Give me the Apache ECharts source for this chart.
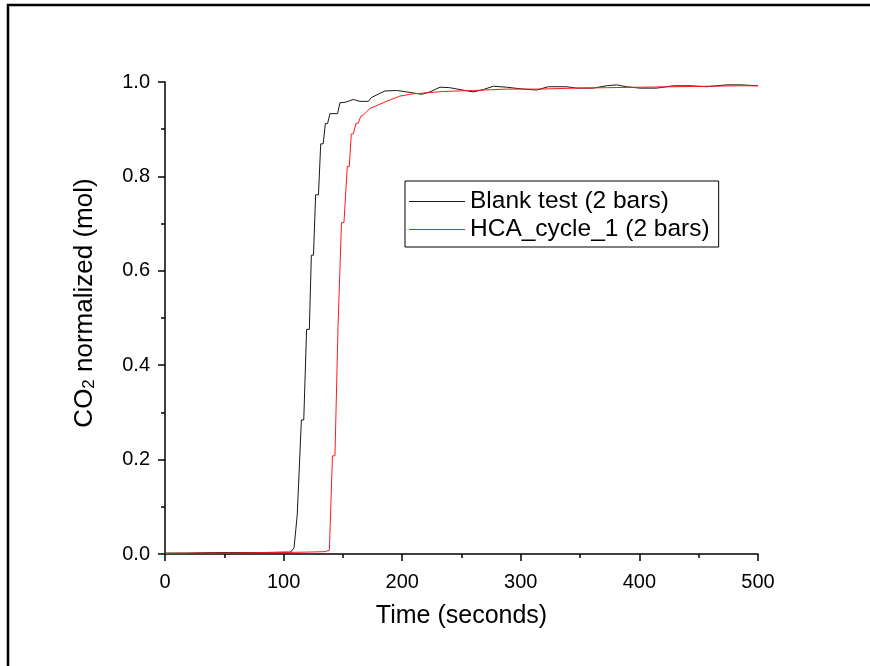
<!DOCTYPE html>
<html>
<head>
<meta charset="utf-8">
<script src="https://cdn.jsdelivr.net/npm/echarts@6/dist/echarts.min.js"></script>
<style>
html,body{margin:0;padding:0;background:#fff;}
#c{width:870px;height:666px;}
</style>
</head>
<body>
<div id="c"></div>
<script>
// Time (s) and normalized CO2 for the blank test
const blankT = [0, 20, 40, 60, 80, 100, 106, 108.8, 111.5, 113, 115, 117, 119.4, 121.7, 123.4, 125.2, 127, 129.4, 131.3, 133.4, 135.2, 137.1, 139.1, 145.5, 147.5, 152, 158.8, 164.4, 171.5, 174, 181.3, 185.5, 195.4, 203.7, 216.4, 223.4, 231.9, 240, 248.7, 260, 268.4, 276.8, 288, 302, 313.3, 323.2, 338.6, 347, 361, 372.3, 380.8, 389, 400.5, 414.6, 428.6, 442.7, 456.7, 473.7, 484.8, 500];
const blankV = [0.002, 0.002, 0.003, 0.003, 0.003, 0.004, 0.004, 0.013, 0.083, 0.083, 0.284, 0.284, 0.476, 0.476, 0.633, 0.633, 0.761, 0.761, 0.869, 0.869, 0.912, 0.912, 0.933, 0.933, 0.956, 0.957, 0.963, 0.959, 0.959, 0.967, 0.976, 0.981, 0.982, 0.979, 0.974, 0.979, 0.989, 0.988, 0.984, 0.979, 0.984, 0.991, 0.989, 0.985, 0.983, 0.990, 0.990, 0.987, 0.987, 0.992, 0.994, 0.990, 0.987, 0.987, 0.992, 0.992, 0.990, 0.994, 0.994, 0.992];

// Time (s) and normalized CO2 for HCA cycle 1
const hcaT = [0, 30, 60, 90, 120, 135, 138.6, 141.2, 143.3, 145.9, 147.1, 148.8, 150.9, 153.7, 155.4, 157.1, 158.8, 161, 163, 165, 167.2, 170, 172.9, 181.3, 189.7, 198, 209.4, 220.6, 234.6, 260, 288, 316, 345, 373, 401, 430, 458, 486, 500];
const hcaV = [0.001, 0.002, 0.002, 0.003, 0.004, 0.005, 0.008, 0.208, 0.208, 0.483, 0.483, 0.702, 0.702, 0.821, 0.821, 0.890, 0.890, 0.912, 0.913, 0.927, 0.930, 0.937, 0.944, 0.953, 0.962, 0.970, 0.975, 0.977, 0.980, 0.982, 0.985, 0.985, 0.987, 0.988, 0.989, 0.990, 0.991, 0.992, 0.992];

const seriesNames = ['Blank test (2 bars)', 'HCA_cycle_1 (2 bars)'];
const xTicks = [0, 100, 200, 300, 400, 500];
const yTicks = [0.0, 0.2, 0.4, 0.6, 0.8, 1.0];

const zip = (a, b) => a.map((t, i) => [t, b[i]]);
const FONT = '"Liberation Sans", Arial, sans-serif';
const BLACK = '#1a1a1a', RED = '#ff1a1a';

const chart = echarts.init(document.getElementById('c'), null, {renderer: 'canvas'});
chart.setOption({
  animation: false,
  backgroundColor: '#fff',
  grid: {left: 165, right: 112, top: 82, bottom: 112, containLabel: false},
  graphic: [{
    type: 'polyline',
    shape: {points: [[8, 670], [8, 5], [874, 5]]},
    style: {stroke: '#000', lineWidth: 2.5, fill: null}
  }],
  legend: {
    orient: 'vertical',
    left: 405, top: 181,
    padding: [8, 9, 5, 4],
    itemGap: 3,
    itemWidth: 56, itemHeight: 1,
    icon: 'rect',
    borderColor: '#000', borderWidth: 1,
    textStyle: {fontFamily: FONT, fontSize: 24.5, color: '#000'},
    data: [
      {name: seriesNames[0], itemStyle: {color: BLACK}},
      {name: seriesNames[1], itemStyle: {color: RED}}
    ]
  },
  xAxis: {
    type: 'value',
    min: xTicks[0], max: xTicks[xTicks.length - 1], interval: 100,
    name: 'Time (seconds)', nameLocation: 'middle', nameGap: 50,
    nameTextStyle: {fontFamily: FONT, fontSize: 25, color: '#000'},
    axisLine: {show: true, onZero: false, lineStyle: {color: '#000', width: 1.5}},
    axisTick: {show: true, inside: false, length: 7, lineStyle: {color: '#000', width: 1.5}},
    minorTick: {show: true, splitNumber: 2, length: 4, lineStyle: {color: '#000', width: 1.5}},
    axisLabel: {fontFamily: FONT, fontSize: 20, color: '#000', margin: 18},
    splitLine: {show: false}
  },
  yAxis: {
    type: 'value',
    min: yTicks[0], max: yTicks[yTicks.length - 1], interval: 0.2,
    name: 'CO{sub|2} normalized (mol)', nameLocation: 'middle', nameGap: 67,
    nameTextStyle: {fontFamily: FONT, fontSize: 26, color: '#000', padding: [0, 0, 0, 30],
      rich: {sub: {fontFamily: FONT, fontSize: 17, color: '#000', verticalAlign: 'bottom', padding: [10, 0, 0, 0]}}},
    axisLine: {show: true, onZero: false, lineStyle: {color: '#000', width: 1.5}},
    axisTick: {show: true, inside: false, length: 7, lineStyle: {color: '#000', width: 1.5}},
    minorTick: {show: true, splitNumber: 2, length: 4, lineStyle: {color: '#000', width: 1.5}},
    axisLabel: {fontFamily: FONT, fontSize: 20, color: '#000', margin: 15,
      formatter: v => v.toFixed(1)},
    splitLine: {show: false}
  },
  series: [
    {
      name: seriesNames[0], type: 'line', symbol: 'none', showSymbol: false,
      data: zip(blankT, blankV),
      lineStyle: {color: BLACK, width: 1},
      itemStyle: {color: BLACK},
      z: 3
    },
    {
      name: seriesNames[1], type: 'line', symbol: 'none', showSymbol: false,
      data: zip(hcaT, hcaV),
      lineStyle: {color: RED, width: 1},
      itemStyle: {color: RED},
      z: 4
    }
  ]
});
</script>
</body>
</html>
